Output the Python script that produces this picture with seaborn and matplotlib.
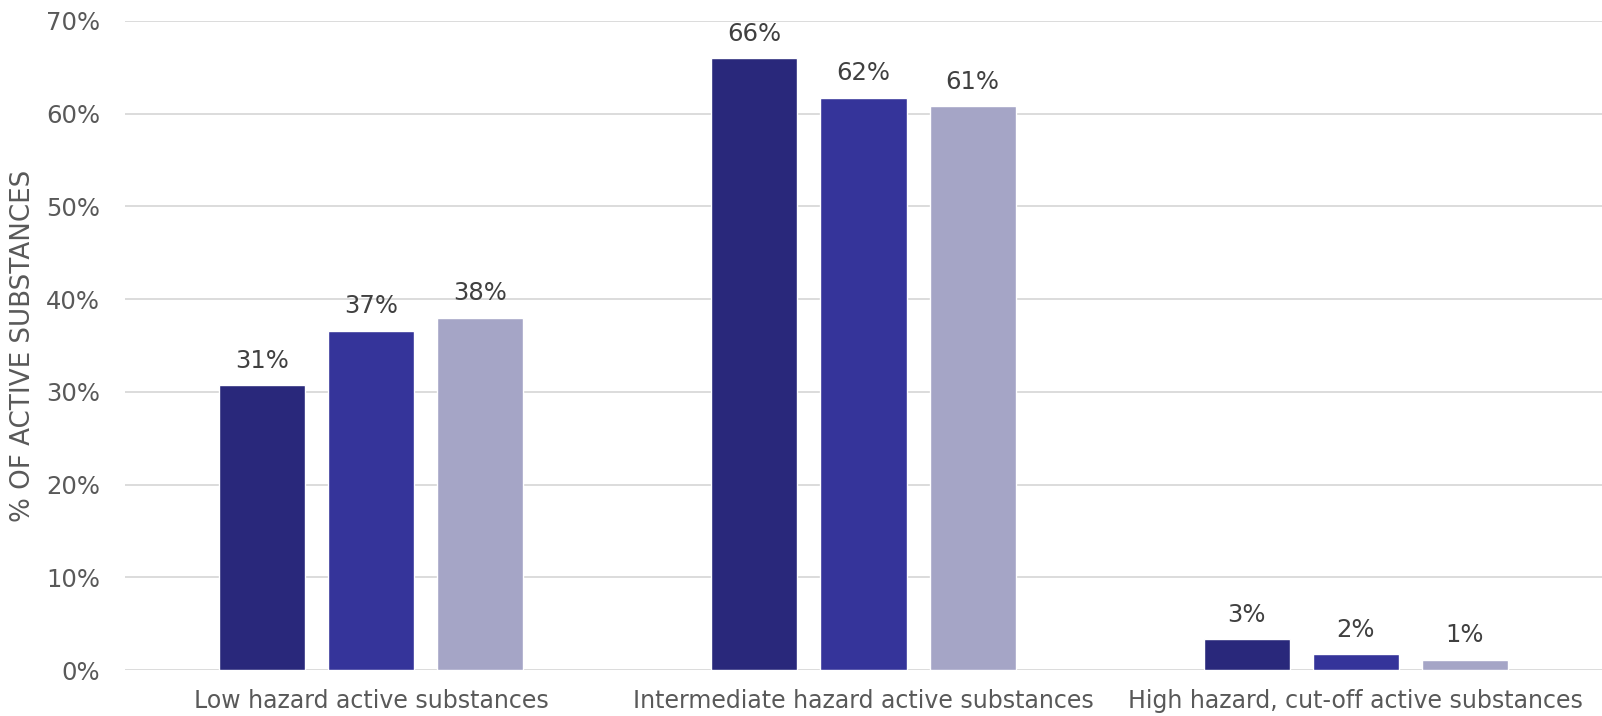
import matplotlib
matplotlib.use("Agg")
import matplotlib.pyplot as plt
import seaborn as sns
import pandas as pd
from matplotlib.ticker import PercentFormatter

categories = [
    "Low hazard active substances",
    "Intermediate hazard active substances",
    "High hazard, cut-off active substances",
]
series_names = ["Group 1", "Group 2", "Group 3"]
values_group1 = [30.7, 66.0, 3.3]
values_group2 = [36.6, 61.7, 1.7]
values_group3 = [38.0, 60.8, 1.1]
y_ticks = [0, 10, 20, 30, 40, 50, 60, 70]

palette = ["#29287b", "#35349a", "#a5a5c6"]
text_grey = "#595959"

rows = []
for name, vals in zip(series_names, [values_group1, values_group2, values_group3]):
    for cat, v in zip(categories, vals):
        rows.append({"category": cat, "series": name, "value": v})
df = pd.DataFrame(rows)

sns.set_theme(style="white")
plt.rcParams["font.family"] = ["DejaVu Sans"]

fig = plt.figure(figsize=(16.02, 7.16), dpi=100)
ax = fig.add_axes([0.078, 0.0642, 0.922, 0.9065])

sns.barplot(
    data=df, x="category", y="value", hue="series",
    order=categories, hue_order=series_names, palette=palette,
    width=0.665, gap=0.21, legend=False, saturation=1, ax=ax,
    errorbar=None,
)

for container in ax.containers:
    ax.bar_label(container, fmt="%.0f%%", padding=9, fontsize=17.5, color="#404040")

ax.set_xlim(-0.5, 2.5)
ax.set_ylim(0, 70)
ax.set_yticks(y_ticks)
ax.yaxis.set_major_formatter(PercentFormatter(decimals=0))
ax.grid(axis="y", color="#d9d9d9", linewidth=1.3)
ax.set_axisbelow(True)
for s in ax.spines.values():
    s.set_visible(False)

ax.tick_params(axis="y", length=0, pad=18, labelsize=17.5, labelcolor=text_grey)
ax.tick_params(axis="x", length=0, pad=14, labelsize=17, labelcolor=text_grey)
ax.set_xlabel("")
ax.set_ylabel("% OF ACTIVE SUBSTANCES", fontsize=18.8, color=text_grey, labelpad=7)

fig.savefig("out.png", dpi=100, facecolor="white")
